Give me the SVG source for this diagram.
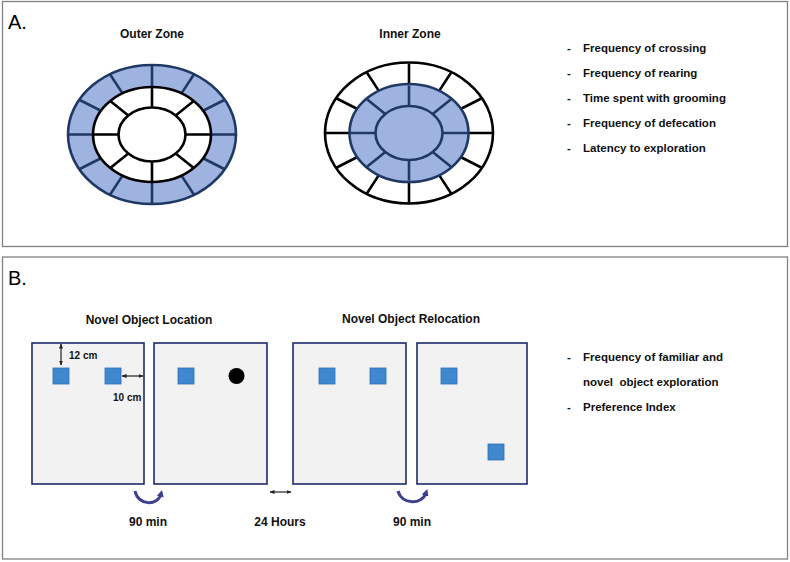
<svg xmlns="http://www.w3.org/2000/svg" width="790" height="562" viewBox="0 0 790 562">
<defs>
<style>
.panel{fill:#fff;stroke:#808080;stroke-width:1.3}
.lbl{font-family:"Liberation Sans",Arial,sans-serif;font-size:20px;fill:#000}
.ttl{font-family:"Liberation Sans",Arial,sans-serif;font-size:12px;font-weight:bold;fill:#111;text-anchor:middle}
.li{font-family:"Liberation Sans",Arial,sans-serif;font-size:11.5px;font-weight:bold;fill:#111;white-space:pre}
.dim{font-family:"Liberation Sans",Arial,sans-serif;font-size:10px;font-weight:bold;fill:#111}
.nv{stroke:#203864;stroke-width:2.6}
.bk{stroke:#000;stroke-width:2.6}
.blue{fill:#9eb3e0}
.wh{fill:#fff}
.box{fill:#f2f2f2;stroke:#1f2a6b;stroke-width:1.6}
.obj{fill:#3f88d0;stroke:#2f6fae;stroke-width:0.8}
.dl{stroke:#222;stroke-width:1.2;fill:none}
.cv{stroke:#3d418e;stroke-width:3;fill:none}
</style>
<marker id="ah" viewBox="0 0 10 10" refX="9" refY="5" markerWidth="5" markerHeight="5" orient="auto-start-reverse" markerUnits="userSpaceOnUse">
<path d="M0,1 L10,5 L0,9 z" fill="#222"/>
</marker>
<marker id="ch" viewBox="0 0 10 10" refX="4" refY="5" markerWidth="7" markerHeight="7" orient="auto" markerUnits="userSpaceOnUse">
<path d="M0,0 L10,5 L0,10 z" fill="#3d418e"/>
</marker>
<g id="outerSpokes">
<path d="M236,134.5L211,134.5M224.75,99.75L203.09,110.75M194,74.31L181.5,93.36M152,65L152,87M110,74.31L122.5,93.36M79.25,99.75L100.91,110.75M68,134.5L93,134.5M79.25,169.25L100.91,158.25M110,194.69L122.5,175.64M152,204L152,182M194,194.69L181.5,175.64M224.75,169.25L203.09,158.25"/>
</g>
<g id="innerSpokes">
<path d="M211,134.5L185.5,134.5M193.72,100.91L175.69,115.41M152,87L152,107.5M110.28,100.91L128.31,115.41M93,134.5L118.5,134.5M110.28,168.09L128.31,153.59M152,182L152,161.5M193.72,168.09L175.69,153.59"/>
</g>
</defs>

<g id="panelA">
<rect class="panel" x="2.5" y="1.5" width="785" height="245"/>
<text class="lbl" x="8" y="29">A.</text>
</g>

<g id="outerZone">
<text class="ttl" x="152" y="38">Outer Zone</text>
<ellipse class="blue nv" cx="152" cy="134.5" rx="84" ry="69.5"/>
<use href="#outerSpokes" class="nv"/>
<ellipse class="wh bk" cx="152" cy="134.5" rx="59" ry="47.5"/>
<use href="#innerSpokes" class="bk"/>
<ellipse class="wh bk" cx="152" cy="134.5" rx="33.5" ry="27"/>
</g>

<g id="innerZone">
<text class="ttl" x="410" y="38">Inner Zone</text>
<g transform="translate(257,-1.5)">
<ellipse class="wh bk" cx="152" cy="134.5" rx="84" ry="70.5"/>
<use href="#outerSpokes" class="bk"/>
<ellipse class="blue nv" cx="152" cy="134.5" rx="59.5" ry="49"/>
<use href="#innerSpokes" class="nv"/>
<ellipse class="blue nv" cx="152" cy="134.5" rx="33.5" ry="27"/>
</g>
</g>

<g id="listA">
<text class="li" x="567" y="52">-</text><text class="li" x="583" y="52">Frequency of crossing</text>
<text class="li" x="567" y="77">-</text><text class="li" x="583" y="77">Frequency of rearing</text>
<text class="li" x="567" y="102">-</text><text class="li" x="583" y="102">Time spent with grooming</text>
<text class="li" x="567" y="127">-</text><text class="li" x="583" y="127">Frequency of defecation</text>
<text class="li" x="567" y="152">-</text><text class="li" x="583" y="152">Latency to exploration</text>
</g>

<g id="panelB">
<rect class="panel" x="2.5" y="257" width="785" height="302"/>
<text class="lbl" x="8" y="285">B.</text>
<text class="ttl" x="149" y="324">Novel Object Location</text>
<text class="ttl" x="411" y="323">Novel Object Relocation</text>
</g>

<g id="box1">
<rect class="box" x="32" y="343" width="112" height="141"/>
<rect class="obj" x="53" y="368" width="16" height="16"/>
<rect class="obj" x="105" y="368" width="16" height="16"/>
<text class="dim" x="69" y="359">12 cm</text>
<text class="dim" x="113" y="401">10 cm</text>
</g>
<g id="box2">
<rect class="box" x="154" y="343" width="113" height="141"/>
<rect class="obj" x="178" y="368" width="16" height="16"/>
<circle cx="236.5" cy="376" r="8" fill="#000"/>
</g>
<g id="box3">
<rect class="box" x="293" y="343" width="113" height="141"/>
<rect class="obj" x="319" y="368" width="16" height="16"/>
<rect class="obj" x="370" y="368" width="16" height="16"/>
</g>
<g id="box4">
<rect class="box" x="417" y="343" width="110" height="141"/>
<rect class="obj" x="441" y="368" width="16" height="16"/>
<rect class="obj" x="488" y="444" width="16" height="16"/>
</g>

<g id="connectors">
<line class="dl" x1="61" y1="344" x2="61" y2="365" marker-start="url(#ah)" marker-end="url(#ah)"/>
<line class="dl" x1="122" y1="376" x2="143" y2="376" marker-start="url(#ah)" marker-end="url(#ah)"/>
<line class="dl" x1="270" y1="492" x2="291" y2="492" marker-start="url(#ah)" marker-end="url(#ah)"/>
<path class="cv" d="M135,491 C138,506 158,506 161,494" marker-end="url(#ch)"/>
<path class="cv" d="M398,491 C402,505 422,505 426,493" marker-end="url(#ch)"/>
</g>

<g id="labelsB">
<text class="ttl" x="148" y="526">90 min</text>
<text class="ttl" x="280" y="526">24 Hours</text>
<text class="ttl" x="412" y="526">90 min</text>
</g>

<g id="listB">
<text class="li" x="567" y="361">-</text><text class="li" x="583" y="361">Frequency of familiar and</text>
<text class="li" x="583" y="386">novel  object exploration</text>
<text class="li" x="567" y="411">-</text><text class="li" x="583" y="411">Preference Index</text>
</g>
</svg>
